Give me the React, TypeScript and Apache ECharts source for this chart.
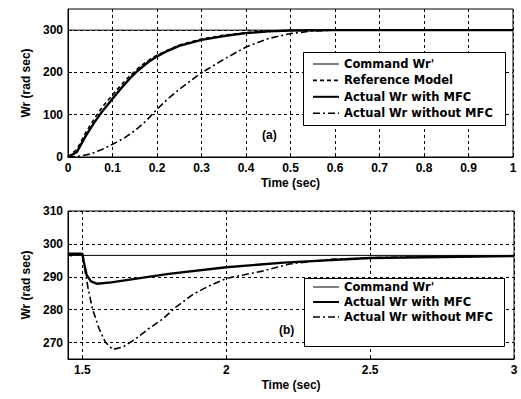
import React, { useEffect, useRef } from "react";
import * as echarts from "echarts";

// ---- Plot (a): speed response ----
const topCmdT = [0, 1];
const topCmd = [300, 300];
const topRefT = [0, 0.02, 0.04, 0.06, 0.08, 0.1, 0.12, 0.14, 0.16, 0.18, 0.2, 0.25, 0.3, 0.35, 0.4, 0.45, 0.5, 0.6, 1];
const topRef = [0, 18, 58, 92, 122, 147, 171, 193, 212, 228, 241, 265, 279, 288, 294, 297, 299, 300, 300];
const topMfcT = [0, 0.02, 0.04, 0.06, 0.08, 0.1, 0.12, 0.14, 0.16, 0.18, 0.2, 0.22, 0.25, 0.3, 0.35, 0.4, 0.45, 0.5, 0.6, 1];
const topMfc = [0, 12, 50, 83, 112, 138, 163, 187, 207, 224, 238, 249, 263, 277, 286, 293, 297, 299, 300, 300];
const topNoT = [0, 0.025, 0.05, 0.075, 0.1, 0.125, 0.15, 0.175, 0.2, 0.225, 0.25, 0.275, 0.3, 0.35, 0.4, 0.45, 0.5, 0.55, 0.6, 1];
const topNo = [0, 2, 7, 17, 30, 44, 62, 85, 113, 138, 160, 180, 199, 231, 260, 280, 292, 298, 300, 300];

// ---- Plot (b): load disturbance ----
const botCmdT = [1.45, 3];
const botCmd = [296.5, 296.5];
const botMfcT = [1.45, 1.5, 1.505, 1.515, 1.53, 1.55, 1.6, 1.8, 2, 2.2, 2.5, 2.75, 3];
const botMfc = [297, 297, 294.5, 290.5, 288.6, 287.9, 288.3, 290.9, 292.9, 294.3, 295.7, 296.0, 296.3];
const botNoT = [1.45, 1.46, 1.47, 1.48, 1.49, 1.5, 1.505, 1.52, 1.535, 1.558, 1.58, 1.605, 1.64, 1.685, 1.73, 1.78, 1.825, 1.885, 1.94, 2, 2.05, 2.13, 2.22, 2.36, 2.5, 2.7, 3];
const botNo = [297, 296.4, 297, 296.5, 297, 297, 294, 286.4, 280.3, 274.2, 270.1, 267.9, 268.6, 271.1, 274.2, 277.2, 280.8, 284.7, 287.2, 289.5, 290.4, 291.8, 293.9, 295.3, 295.8, 296.1, 296.3];

const topXTicks = [0, 0.1, 0.2, 0.3, 0.4, 0.5, 0.6, 0.7, 0.8, 0.9, 1];
const topYTicks = [0, 100, 200, 300];
const botXTicks = [1.5, 2, 2.5, 3];
const botYTicks = [270, 280, 290, 300, 310];

const N_CMD = "Command Wr'";
const N_REF = "Reference Model";
const N_MFC = "Actual Wr with MFC";
const N_NO = "Actual Wr without MFC";

const zip = (t: number[], v: number[]) => t.map((x, i) => [x, v[i]]);

const FONT = "Liberation Sans, Arial, sans-serif";
const LFONT = "DejaVu Sans, Verdana, sans-serif";

export default function App() {
  const ref = useRef<HTMLDivElement>(null);
  useEffect(() => {
    if (!ref.current) return;
    const chart = echarts.init(ref.current, null, { renderer: "svg" });
    const grid = { show: true, borderColor: "#000", borderWidth: 1, backgroundColor: "#fff" };
    const splitLine = { show: true, lineStyle: { color: "#000", type: [3, 3], width: 1 } };
    const axisLabel = { color: "#000", fontFamily: FONT, fontWeight: "bold", fontSize: 12 };
    const nameStyle = { color: "#000", fontFamily: FONT, fontWeight: "bold", fontSize: 12 };
    const axisLine = { show: true, lineStyle: { color: "#000", width: 1 } };
    const axisTick = (vals: number[]) => ({ show: true, inside: true, length: 4, lineStyle: { color: "#000" }, customValues: vals });
    const cmdStyle = { color: "#000", width: 1, type: "solid" };
    const refStyle = { color: "#000", width: 1.6, type: [4, 3] };
    const mfcStyle = { color: "#000", width: 2.4, type: "solid" };
    const noStyle = { color: "#000", width: 1.6, type: [7, 3, 2, 3] };
    const base = { type: "line", symbol: "none", showSymbol: false, smooth: false, itemStyle: { color: "#000" }, color: "#000" };
    const legendText = { color: "#000", fontFamily: LFONT, fontWeight: "bold", fontSize: 11.5 };
    const legendCommon = {
      orient: "vertical", z: 20, itemWidth: 26, itemHeight: 11,
      textStyle: legendText, selectedMode: false,
      itemStyle: { opacity: 0 },
    };
    const item = (name: string, ls: any) => ({ name, lineStyle: { ...ls, width: Math.min(ls.width, 2) } });

    chart.setOption({
      animation: false,
      backgroundColor: "#fff",
      color: ["#000"],
      grid: [
        { ...grid, left: 68, top: 9, width: 445, height: 148 },
        { ...grid, left: 68, top: 211, width: 446, height: 148 },
      ],
      xAxis: [
        {
          type: "value", gridIndex: 0, min: 0, max: 1,
          name: "Time (sec)", nameLocation: "middle", nameGap: 20, nameTextStyle: nameStyle,
          axisLine, axisTick: axisTick(topXTicks), splitLine,
          axisLabel: { ...axisLabel, margin: 5, customValues: topXTicks, formatter: (v: number) => String(+v.toFixed(1)) },
        },
        {
          type: "value", gridIndex: 1, min: 1.45, max: 3,
          name: "Time (sec)", nameLocation: "middle", nameGap: 20, nameTextStyle: nameStyle,
          axisLine, axisTick: axisTick(botXTicks), splitLine,
          axisLabel: { ...axisLabel, margin: 5, customValues: botXTicks, formatter: (v: number) => String(+v.toFixed(1)) },
        },
      ],
      yAxis: [
        {
          type: "value", gridIndex: 0, min: 0, max: 350,
          name: "Wr (rad sec)", nameLocation: "middle", nameGap: 33, nameTextStyle: nameStyle,
          axisLine, axisTick: axisTick(topYTicks), splitLine,
          axisLabel: { ...axisLabel, margin: 5, customValues: topYTicks },
        },
        {
          type: "value", gridIndex: 1, min: 265, max: 310,
          name: "Wr (rad sec)", nameLocation: "middle", nameGap: 33, nameTextStyle: nameStyle,
          axisLine, axisTick: axisTick(botYTicks), splitLine,
          axisLabel: { ...axisLabel, margin: 5, customValues: botYTicks },
        },
      ],
      legend: [
        {
          ...legendCommon,
          data: [item(N_CMD, cmdStyle), item(N_REF, refStyle), item(N_MFC, mfcStyle), item(N_NO, noStyle)],
          left: 303, top: 52, padding: [6, 8, 4, 9], itemGap: 4.4,
        },
        {
          ...legendCommon,
          data: [item(N_CMD, cmdStyle), item(N_MFC, mfcStyle), item(N_NO, noStyle)],
          left: 304, top: 278, padding: [3, 8, 4, 8], itemGap: 3,
        },
      ],
      graphic: [
        { type: "rect", left: 303, top: 52, shape: { width: 202, height: 73 }, style: { fill: "#fff", stroke: "#000", lineWidth: 1 }, z: 4 },
        { type: "rect", left: 304, top: 278, shape: { width: 200, height: 68 }, style: { fill: "#fff", stroke: "#000", lineWidth: 1 }, z: 4 },
        { type: "text", left: 262, top: 129, style: { text: "(a)", fill: "#000", font: "bold 12px " + FONT }, z: 6 },
        { type: "text", left: 279, top: 324, style: { text: "(b)", fill: "#000", font: "bold 12px " + FONT }, z: 6 },
      ],
      series: [
        { ...base, name: N_CMD, xAxisIndex: 0, yAxisIndex: 0, data: zip(topCmdT, topCmd), lineStyle: cmdStyle, z: 2 },
        { ...base, name: N_REF, xAxisIndex: 0, yAxisIndex: 0, data: zip(topRefT, topRef), lineStyle: refStyle, z: 2 },
        { ...base, name: N_MFC, xAxisIndex: 0, yAxisIndex: 0, data: zip(topMfcT, topMfc), lineStyle: mfcStyle, z: 3 },
        { ...base, name: N_NO, xAxisIndex: 0, yAxisIndex: 0, data: zip(topNoT, topNo), lineStyle: noStyle, z: 2 },
        { ...base, name: N_CMD, xAxisIndex: 1, yAxisIndex: 1, data: zip(botCmdT, botCmd), lineStyle: cmdStyle, z: 2 },
        { ...base, name: N_MFC, xAxisIndex: 1, yAxisIndex: 1, data: zip(botMfcT, botMfc), lineStyle: mfcStyle, z: 3 },
        { ...base, name: N_NO, xAxisIndex: 1, yAxisIndex: 1, data: zip(botNoT, botNo), lineStyle: noStyle, z: 2 },
      ],
    });
    return () => chart.dispose();
  }, []);
  return <div ref={ref} style={{ width: 521, height: 399, position: "absolute", left: 0, top: 0 }} />;
}
